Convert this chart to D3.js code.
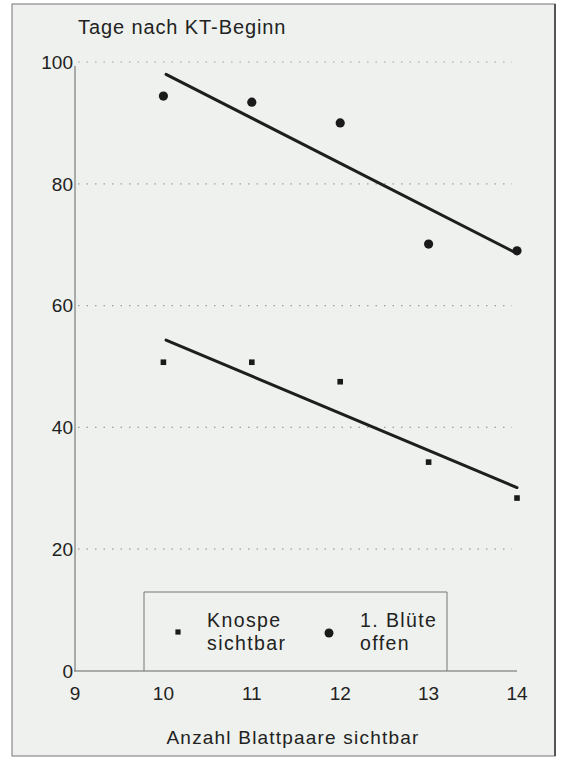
<!DOCTYPE html>
<html><head><meta charset="utf-8">
<script src="https://cdn.jsdelivr.net/npm/d3@7"></script>
<style>html,body{margin:0;padding:0;background:#fff;}svg{display:block;}</style>
</head><body>
<script>
const xValues = [10, 11, 12, 13, 14];
const knospeValues = [50.7, 50.7, 47.5, 34.3, 28.4];
const bluteValues = [94.4, 93.4, 90.0, 70.1, 69.0];
const xTicks = [9, 10, 11, 12, 13, 14];
const yTicks = [0, 20, 40, 60, 80, 100];
const yGrid = [20, 40, 60, 80, 100];
const yTitle = "Tage nach KT-Beginn";
const xTitle = "Anzahl Blattpaare sichtbar";
const legendLabels = [["Knospe", "sichtbar"], ["1. Blüte", "offen"]];

const W = 561, H = 758;
const svg = d3.select("body").append("svg").attr("width", W).attr("height", H);
const font = "'Liberation Sans', Arial, sans-serif";

// frame
svg.append("rect").attr("x", 12).attr("y", 4).attr("width", 543).attr("height", 752)
  .attr("fill", "#eef1ed").attr("stroke", "#8a8a8a").attr("stroke-width", 1.2);
svg.append("line").attr("x1", 555).attr("x2", 555).attr("y1", 4).attr("y2", 756)
  .attr("stroke", "#555").attr("stroke-width", 2);

const x = d3.scaleLinear().domain([9, 14]).range([75, 517]);
const y = d3.scaleLinear().domain([0, 100]).range([671, 62]);

// gridlines
svg.append("g").selectAll("line").data(yGrid).join("line")
  .attr("x1", 78).attr("x2", 512).attr("y1", d => y(d)).attr("y2", d => y(d))
  .attr("stroke", "#a0a0a0").attr("stroke-width", 1.2).attr("stroke-dasharray", "1.5,7");

// axes lines
svg.append("line").attr("x1", 75).attr("x2", 75).attr("y1", y(100) + 4).attr("y2", y(0))
  .attr("stroke", "#666").attr("stroke-width", 1);
svg.append("line").attr("x1", 74).attr("x2", x(14)).attr("y1", y(0)).attr("y2", y(0))
  .attr("stroke", "#666").attr("stroke-width", 1);

// tick labels
svg.append("g").selectAll("text").data(yTicks).join("text")
  .attr("x", 73).attr("y", d => y(d)).attr("dy", "0.36em").attr("text-anchor", "end")
  .attr("font-family", font).attr("font-size", 19).attr("fill", "#222").text(d => d);
svg.append("g").selectAll("text").data(xTicks).join("text")
  .attr("x", d => x(d)).attr("y", 700).attr("text-anchor", "middle")
  .attr("font-family", font).attr("font-size", 19).attr("fill", "#222").text(d => d);

// titles
svg.append("text").attr("x", 78).attr("y", 34).attr("font-family", font).attr("font-size", 20)
  .attr("letter-spacing", 0.9).attr("fill", "#222").text(yTitle);
svg.append("text").attr("x", 293).attr("y", 744).attr("text-anchor", "middle").attr("font-family", font)
  .attr("font-size", 19).attr("letter-spacing", 1.2).attr("fill", "#222").text(xTitle);

// regression lines
function regress(xs, ys) {
  const mx = d3.mean(xs), my = d3.mean(ys);
  const b = d3.sum(xs, (v, i) => (v - mx) * (ys[i] - my)) / d3.sum(xs, v => (v - mx) * (v - mx));
  return v => my + b * (v - mx);
}
[knospeValues, bluteValues].forEach(vals => {
  const f = regress(xValues, vals);
  const x0 = 10.03, x1 = 14;
  svg.append("line").attr("x1", x(x0)).attr("y1", y(f(x0))).attr("x2", x(x1)).attr("y2", y(f(x1)))
    .attr("stroke", "#1e1e1e").attr("stroke-width", 3).attr("stroke-linecap", "round");
});

// points
svg.append("g").selectAll("rect").data(xValues).join("rect")
  .attr("x", (d) => x(d) - 2.8).attr("y", (d, i) => y(knospeValues[i]) - 2.8)
  .attr("width", 5.6).attr("height", 5.6).attr("fill", "#1a1a1a");
svg.append("g").selectAll("circle").data(xValues).join("circle")
  .attr("cx", d => x(d)).attr("cy", (d, i) => y(bluteValues[i])).attr("r", 4.6).attr("fill", "#1a1a1a");

// legend
svg.append("path").attr("d", `M144,${y(0)}V592H447V${y(0)}`).attr("fill", "none")
  .attr("stroke", "#777").attr("stroke-width", 1);
svg.append("rect").attr("x", 178 - 2.6).attr("y", 632 - 2.6).attr("width", 5.2).attr("height", 5.2).attr("fill", "#1a1a1a");
svg.append("circle").attr("cx", 329).attr("cy", 633).attr("r", 4.5).attr("fill", "#1a1a1a");
[[207, legendLabels[0]], [360, legendLabels[1]]].forEach(([lx, lines]) => {
  lines.forEach((t, j) => {
    svg.append("text").attr("x", lx).attr("y", 627 + j * 23).attr("font-family", font)
      .attr("font-size", 19.5).attr("letter-spacing", 1.4).attr("fill", "#222").text(t);
  });
});
</script>
</body></html>
